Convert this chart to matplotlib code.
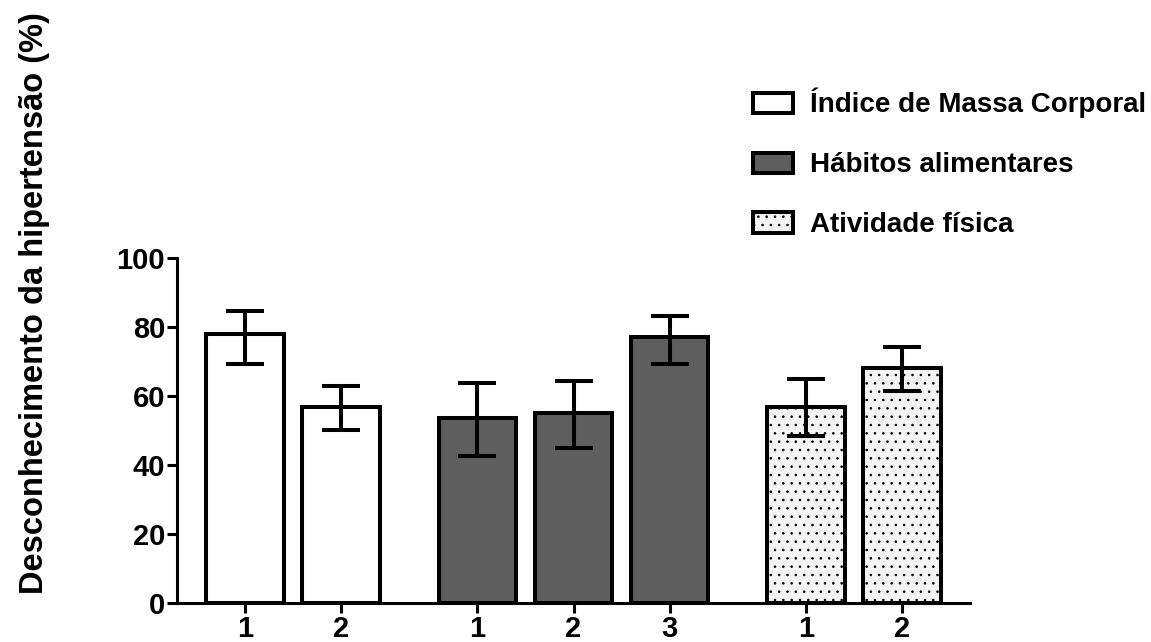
import matplotlib
matplotlib.use("Agg")
import matplotlib.pyplot as plt
from matplotlib.patches import Patch
import numpy as np

plt.rcParams['font.family'] = ['Liberation Sans', 'DejaVu Sans']
plt.rcParams['font.weight'] = 'bold'
plt.rcParams['hatch.linewidth'] = 0.6
plt.rcParams['hatch.color'] = '#222222'

groups = ["Índice de Massa Corporal", "Hábitos alimentares", "Atividade física"]
group_values = [[78.0, 56.7], [53.5, 55.0, 77.2], [56.9, 68.2]]
group_err_low = [[69.2, 50.1], [42.7, 44.8, 69.2], [48.5, 61.4]]
group_err_high = [[84.7, 63.0], [63.9, 64.3, 83.2], [64.8, 74.3]]
group_ticklabels = [["1", "2"], ["1", "2", "3"], ["1", "2"]]
ylabel = "Desconhecimento da hipertensão (%)"
yticks = [0, 20, 40, 60, 80, 100]

facecolors = ["white", "#5e5e5e", "#f4f4f4"]
hatches = [None, None, ".."]

fig = plt.figure(figsize=(11.51, 6.42), dpi=100)
ax = fig.add_axes([177/1151, 1-603/642, (970-177)/1151, (603-258)/642])

gap = 0.42
pos = 0.0
xticks, xticklabels = [], []
handles = []
lw = 2.9
for gi, g in enumerate(groups):
    vals = group_values[gi]
    xs = pos + np.arange(len(vals))
    ax.bar(xs, vals, width=0.81, color=facecolors[gi], edgecolor="black",
           linewidth=lw, hatch=hatches[gi], zorder=2)
    lo = np.array(vals) - np.array(group_err_low[gi])
    hi = np.array(group_err_high[gi]) - np.array(vals)
    ax.errorbar(xs, vals, yerr=[lo, hi], fmt="none", ecolor="black",
                elinewidth=lw, capsize=14, capthick=lw, zorder=3)
    xticks += list(xs)
    xticklabels += group_ticklabels[gi]
    handles.append(Patch(facecolor=facecolors[gi], edgecolor="black",
                         linewidth=lw, hatch=hatches[gi], label=g))
    pos = xs[-1] + 1 + gap

ax.set_xlim(-0.71, 7.55)
ax.set_ylim(0, 100)
ax.set_yticks(yticks)
ax.set_xticks(xticks)
ax.set_xticklabels(xticklabels)
for s in ["top", "right"]:
    ax.spines[s].set_visible(False)
for s in ["left", "bottom"]:
    ax.spines[s].set_linewidth(2.2)
ax.tick_params(axis="both", length=7, width=2.2, labelsize=21, pad=1.5)
for lab in ax.get_xticklabels() + ax.get_yticklabels():
    lab.set_fontweight("bold")

ax.set_ylabel(ylabel, fontsize=23.5, fontweight="bold")
ax.yaxis.set_label_coords(-0.160, 0.869)

fig.legend(handles=handles, loc="upper left", bbox_to_anchor=(753/1151, 1-88/642),
           frameon=False, handlelength=1.44, handleheight=0.75,
           handletextpad=0.6, labelspacing=1.22, borderaxespad=0, borderpad=0,
           prop={"weight": "bold", "size": 20})

fig.savefig("out.png", dpi=100)
